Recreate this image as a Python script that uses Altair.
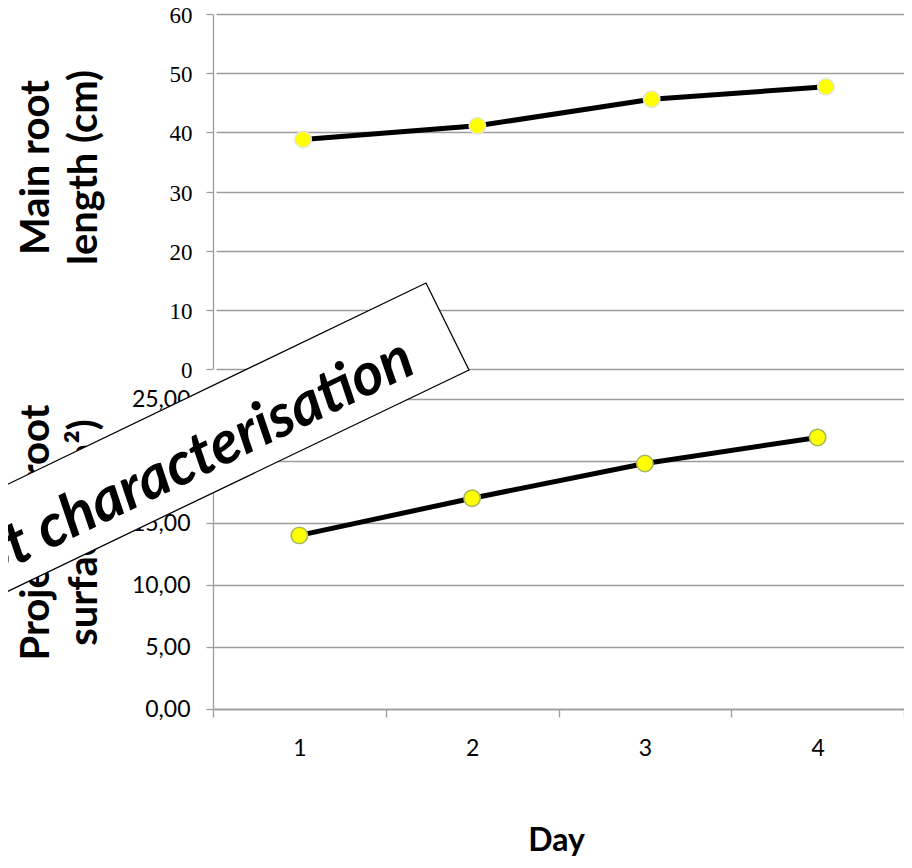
import altair as alt
import pandas as pd

# ---- data ----
days = [1, 2, 3, 4]
main_root_length = [38.8, 41.1, 45.6, 47.7]        # cm
projected_surface = [14.0, 17.0, 19.8, 21.9]       # cm²
top_ticks = [0, 10, 20, 30, 40, 50, 60]
bottom_ticks = [0, 5, 10, 15, 20, 25]
top_title = ["Main root", "length (cm)"]
bottom_title = ["Projected root", "surface (cm²)"]
x_title = "Day"
banner_text = ["Root characterisation"]

# ---- banner overlay geometry (pixels, relative to the plot origin) ----
banner_x = [-243, 213, 256]
banner_top = [494.4, 275, 362]
banner_bottom = [601.4, 382.1, 362]
border_x = [-243, 213, 256, -243]
border_y = [494.4, 275, 362, 601.4]

GRID = "#9d9d9d"
SANS = "Lato"
W, H = 691, 701

top_df = pd.DataFrame({"Day": days, "value": main_root_length})
bot_df = pd.DataFrame({"Day": days, "value": projected_surface})

top_y_scale = alt.Scale(domain=[0, 60], range=[361, 6], nice=False, zero=False)
bot_y_scale = alt.Scale(domain=[0, 25], range=[701, 391], nice=False, zero=False)
top_x_scale = alt.Scale(type="point", range=[3, 700], padding=0.5)
bot_x_scale = alt.Scale(type="band", paddingInner=0, paddingOuter=0)

top_axis = alt.Axis(
    orient="left", values=top_ticks, format="d",
    grid=True, gridColor=GRID, gridWidth=1.3,
    domainColor=GRID, domainWidth=1.3, tickColor=GRID, tickWidth=1.3, tickSize=7,
    labelFont="Liberation Serif", labelFontSize=23, labelColor="black",
    labelPadding=14, labelOffset=1.5,
    title=top_title, titleFont=SANS, titleFontSize=40, titleFontWeight="bold",
    titleColor="black", titleAngle=270, titleAlign="center", titleBaseline="alphabetic",
    titleX=-165, titleY=159, titleLineHeight=48,
)
bot_axis = alt.Axis(
    orient="left", values=bottom_ticks,
    labelExpr="replace(format(datum.value, '.2f'), '.', ',')",
    grid=True, gridColor=GRID, gridWidth=1.3,
    domainColor=GRID, domainWidth=1.3, tickColor=GRID, tickWidth=1.3, tickSize=7,
    labelFont=SANS, labelFontSize=23, labelColor="black", labelPadding=16,
    title=bottom_title, titleFont=SANS, titleFontSize=40, titleFontWeight="bold",
    titleColor="black", titleAngle=270, titleAlign="center", titleBaseline="alphabetic",
    titleX=-165, titleY=524, titleLineHeight=48,
)
x_axis = alt.Axis(
    orient="bottom", tickBand="extent", labelAngle=0, grid=False,
    domainColor=GRID, domainWidth=1.3, tickColor=GRID, tickWidth=1.3, tickSize=8,
    labelFont=SANS, labelFontSize=23, labelColor="black", labelPadding=20,
    title=x_title, titleFont=SANS, titleFontSize=32, titleFontWeight="bold",
    titleColor="black", titleX=343, titleY=141, titleBaseline="alphabetic",
)

# ---- top panel ----
top_line = alt.Chart(top_df).mark_line(color="black", strokeWidth=5).encode(
    x=alt.X("Day:O", scale=top_x_scale, axis=None),
    y=alt.Y("value:Q", scale=top_y_scale, axis=top_axis),
)
top_pts = alt.Chart(top_df).mark_circle(
    fill="#ffff00", stroke="#e4e4e4", strokeWidth=1.5, size=270, opacity=1
).encode(
    x=alt.X("Day:O", scale=top_x_scale, axis=None),
    y=alt.Y("value:Q", scale=top_y_scale, axis=None),
)

# ---- bottom panel ----
bot_line = alt.Chart(bot_df).mark_line(color="black", strokeWidth=5).encode(
    x=alt.X("Day:O", scale=bot_x_scale, axis=x_axis),
    y=alt.Y("value:Q", scale=bot_y_scale, axis=bot_axis),
)
bot_pts = alt.Chart(bot_df).mark_circle(
    fill="#ffff00", stroke="#a3b55f", strokeWidth=1.5, size=270, opacity=1
).encode(
    x=alt.X("Day:O", scale=bot_x_scale, axis=None),
    y=alt.Y("value:Q", scale=bot_y_scale, axis=None),
)

# ---- banner overlay ----
fill_df = pd.DataFrame({"bx": banner_x, "bt": banner_top, "bb": banner_bottom})
banner_fill = alt.Chart(fill_df).mark_area(color="white", opacity=1).encode(
    x=alt.X("bx:Q", scale=None, axis=None),
    y=alt.Y("bt:Q", scale=None, axis=None),
    y2="bb:Q",
)
border_df = pd.DataFrame({"i": list(range(len(border_x))), "lx": border_x, "ly": border_y})
banner_border = alt.Chart(border_df).mark_line(color="black", strokeWidth=1.3).encode(
    x=alt.X("lx:Q", scale=None, axis=None),
    y=alt.Y("ly:Q", scale=None, axis=None),
    order=alt.Order("i:Q"),
)
text_df = pd.DataFrame({"label": banner_text})
banner_label = alt.Chart(text_df).mark_text(
    angle=334.3, align="right", baseline="alphabetic", font=SANS,
    fontSize=60, fontWeight="bold", fontStyle="italic", color="black",
).encode(x=alt.value(205), y=alt.value(364), text="label:N")

chart = (
    alt.layer(top_line, top_pts, bot_line, bot_pts, banner_fill, banner_border, banner_label)
    .resolve_scale(x="independent", y="independent")
    .properties(
        width=W, height=H,
        autosize=alt.AutoSizeParams(type="none"),
        padding={"left": 205, "top": 0, "right": 0, "bottom": 150},
    )
    .configure_view(stroke="transparent")
)

chart.save("out.html", embed_options={"renderer": "svg", "actions": False})
